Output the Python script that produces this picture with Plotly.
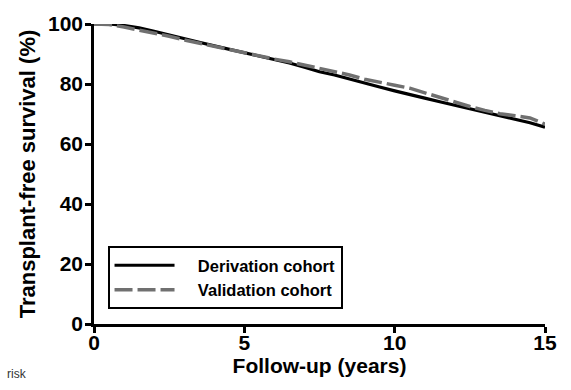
import plotly.graph_objects as go

years = [0, 0.5, 1.0, 1.5, 2.0, 2.5, 3.0, 3.5, 4.0, 4.5, 5.0, 5.5, 6.0, 6.5, 7.0, 7.5,
         8.0, 8.5, 9.0, 9.5, 10.0, 10.5, 11.0, 11.5, 12.0, 12.5, 13.0, 13.5, 14.0, 14.5, 15.0]
derivation = [100, 100, 99.5, 98.7, 97.6, 96.3, 95.0, 93.9, 92.7, 91.6, 90.4, 89.3, 88.2, 87.0,
              85.6, 84.1, 83.0, 81.6, 80.3, 79.0, 77.7, 76.6, 75.3, 74.1, 72.9, 71.8, 70.5,
              69.3, 68.2, 67.1, 65.6]
validation = [100, 99.8, 99.0, 98.0, 97.0, 95.9, 94.7, 93.6, 92.5, 91.4, 90.3, 89.3, 88.3, 87.4,
              86.3, 85.3, 84.3, 83.0, 81.6, 80.5, 79.6, 78.6, 77.0, 75.7, 74.0, 72.5, 71.2,
              70.1, 69.4, 68.7, 66.6]
x_ticks = [0, 5, 10, 15]
y_ticks = [0, 20, 40, 60, 80, 100]

FONT = "Liberation Sans, Arial, Helvetica, sans-serif"
PAD = "\u00a0\u00a0\u00a0\u00a0"

fig = go.Figure()
fig.add_trace(go.Scatter(x=years, y=derivation, mode="lines", name=PAD + "Derivation cohort",
                         line=dict(color="#000000", width=3.2)))
fig.add_trace(go.Scatter(x=years, y=validation, mode="lines", name=PAD + "Validation cohort",
                         line=dict(color="#707070", width=3.5, dash="18px,5px")))

axis_common = dict(showline=True, linecolor="black", linewidth=2.5, ticks="outside",
                   tickcolor="black", tickwidth=2.5, ticklen=6, showgrid=False, zeroline=False,
                   tickfont=dict(family=FONT, size=21, color="black", weight="bold"))

fig.update_layout(
    width=571, height=390,
    margin=dict(l=94, r=26, t=24, b=66),
    plot_bgcolor="white", paper_bgcolor="white",
    xaxis=dict(range=[0, 15], tickvals=x_ticks, ticklabelstandoff=-8, **axis_common,
               title=dict(text="Follow-up (years)", standoff=0,
                          font=dict(family=FONT, size=21, color="black", weight="bold"))),
    yaxis=dict(range=[0, 100], tickvals=y_ticks, ticklabelstandoff=-2, **axis_common,
               title=dict(text="Transplant-free survival (%)", standoff=7,
                          font=dict(family=FONT, size=22, color="black", weight="bold"))),
    legend=dict(x=0.03, y=0.05, xanchor="left", yanchor="bottom",
                bordercolor="black", borderwidth=2, bgcolor="white",
                font=dict(family=FONT, size=16.5, color="black", weight="bold"),
                itemwidth=60, tracegroupgap=0),
    showlegend=True,
)
fig.add_annotation(text="risk", xref="paper", yref="paper", x=-0.197, y=-0.165,
                   xanchor="left", yanchor="middle", showarrow=False,
                   font=dict(family=FONT, size=12, color="#333333"))

fig.write_html("out.html")
